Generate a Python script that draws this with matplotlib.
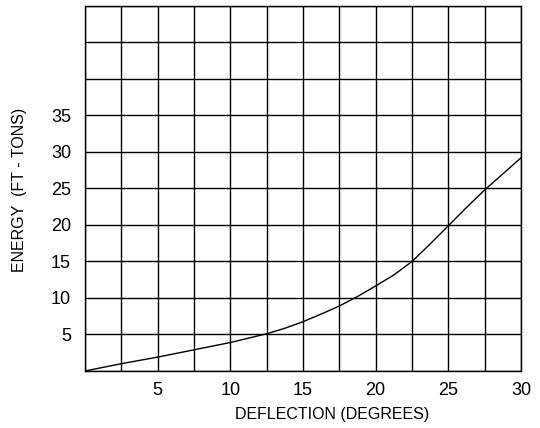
import matplotlib
matplotlib.use('Agg')
import matplotlib.pyplot as plt
from matplotlib.ticker import MultipleLocator, FixedLocator

plt.rcParams['font.family'] = ['Liberation Sans', 'DejaVu Sans']

# values
deflection = [0, 1.25, 2.5, 3.75, 5, 6.25, 7.5, 8.75, 10, 11.25, 12.5, 13.75,
              15, 16.25, 17.5, 18.75, 20, 21.25, 22.5, 23.75, 25, 26.25,
              27.5, 28.75, 30]
energy = [0, 0.5, 1.0, 1.45, 1.9, 2.4, 2.9, 3.4, 3.9, 4.5, 5.1, 5.85,
          6.75, 7.8, 8.9, 10.2, 11.65, 13.15, 15.0, 17.4, 19.9, 22.4,
          24.8, 27.0, 29.2]
x_labels = [5, 10, 15, 20, 25, 30]
y_labels = [5, 10, 15, 20, 25, 30, 35]

fig = plt.figure(figsize=(5.4, 4.28), dpi=100)
ax = fig.add_axes([0.1574, 0.1332, 0.8074, 0.8528])

ax.plot(deflection, energy, color='black', linewidth=1.0)

ax.set_xlim(0, 30)
ax.set_ylim(0, 50)
ax.xaxis.set_minor_locator(MultipleLocator(2.5))
ax.yaxis.set_minor_locator(MultipleLocator(5))
ax.xaxis.set_major_locator(FixedLocator(x_labels))
ax.yaxis.set_major_locator(FixedLocator(y_labels))
ax.grid(which='both', color='black', linewidth=1.0)
ax.tick_params(which='both', length=0)
ax.tick_params(axis='x', pad=8, labelsize=13)
ax.tick_params(axis='y', pad=10, labelsize=13)
for s in ax.spines.values():
    s.set_linewidth(1.0)

fig.text(332 / 540, 1 - 414 / 428, 'DEFLECTION (DEGREES)', ha='center', va='center', fontsize=11.5)
fig.text(20 / 540, 1 - 190 / 428, 'ENERGY  (FT - TONS)', ha='center', va='center',
         rotation=90, fontsize=11.5)

fig.savefig('out.png', dpi=100)
